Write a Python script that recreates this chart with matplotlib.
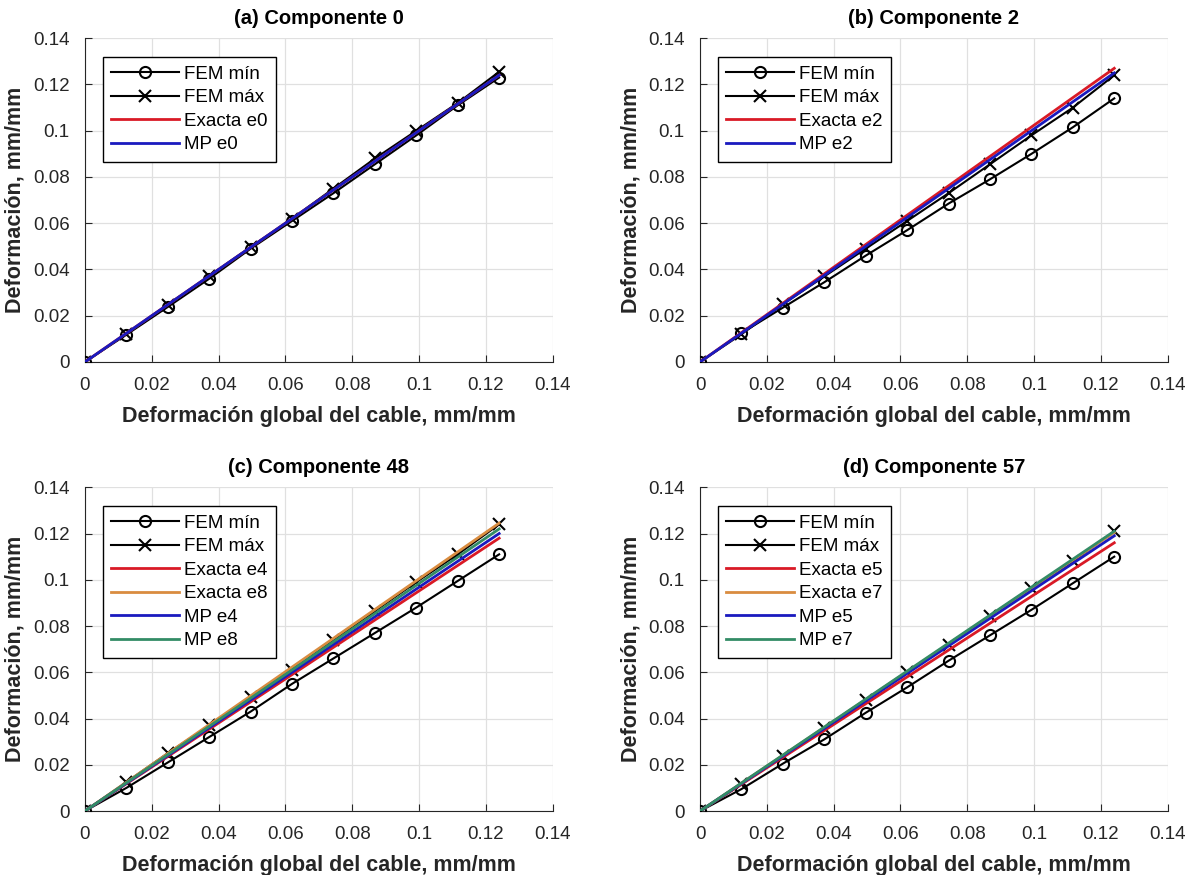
import numpy as np
import matplotlib
matplotlib.use("Agg")
import matplotlib.pyplot as plt

plt.rcParams['font.family'] = ['Liberation Sans', 'DejaVu Sans']

# deformacion global del cable (eje x)
strain = [0, 0.0124, 0.0248, 0.0372, 0.0496, 0.062, 0.0744, 0.0868, 0.0992, 0.1116, 0.124]
ends = [0, 0.124]

titles = ["(a) Componente 0", "(b) Componente 2", "(c) Componente 48", "(d) Componente 57"]

fem_min = [
    [0, 0.0118, 0.0238, 0.0360, 0.0490, 0.0610, 0.0730, 0.0855, 0.0980, 0.1110, 0.1230],
    [0, 0.0125, 0.0235, 0.0345, 0.0460, 0.0570, 0.0685, 0.0790, 0.0900, 0.1015, 0.1140],
    [0, 0.0100, 0.0210, 0.0320, 0.0430, 0.0550, 0.0660, 0.0770, 0.0880, 0.0995, 0.1110],
    [0, 0.0095, 0.0205, 0.0310, 0.0425, 0.0535, 0.0650, 0.0760, 0.0870, 0.0985, 0.1100],
]
fem_max = [
    [0, 0.0122, 0.0248, 0.0372, 0.0497, 0.0620, 0.0750, 0.0880, 0.1000, 0.1120, 0.1255],
    [0, 0.0120, 0.0250, 0.0370, 0.0490, 0.0610, 0.0730, 0.0855, 0.0980, 0.1100, 0.1240],
    [0, 0.0125, 0.0250, 0.0370, 0.0495, 0.0610, 0.0740, 0.0865, 0.0990, 0.1110, 0.1240],
    [0, 0.0115, 0.0240, 0.0360, 0.0480, 0.0600, 0.0720, 0.0845, 0.0965, 0.1080, 0.1210],
]

# rectas: (etiqueta, color, valor final)
red = (0.85, 0.1, 0.15)
orange = (0.85, 0.55, 0.25)
blue = (0.1, 0.1, 0.75)
green = (0.2, 0.55, 0.4)
lines = [
    [("Exacta e0", red, 0.1240), ("MP e0", blue, 0.1240)],
    [("Exacta e2", red, 0.1270), ("MP e2", blue, 0.1250)],
    [("Exacta e4", red, 0.1180), ("Exacta e8", orange, 0.1245),
     ("MP e4", blue, 0.1200), ("MP e8", green, 0.1220)],
    [("Exacta e5", red, 0.1160), ("Exacta e7", orange, 0.1205),
     ("MP e5", blue, 0.1190), ("MP e7", green, 0.1210)],
]

fig = plt.figure(figsize=(11.93, 8.75), dpi=100)
positions = [
    [0.0712, 0.5863, 0.392, 0.370],
    [0.5868, 0.5863, 0.392, 0.370],
    [0.0712, 0.0731, 0.392, 0.370],
    [0.5868, 0.0731, 0.392, 0.370],
]

ticks = np.arange(0, 0.141, 0.02)
ticklabels = ["0", "0.02", "0.04", "0.06", "0.08", "0.1", "0.12", "0.14"]
dark = (0.15, 0.15, 0.15)

for i in range(4):
    ax = fig.add_axes(positions[i])
    ax.plot(strain, fem_min[i], color='k', lw=1.5, marker='o', ms=8,
            mfc='none', mew=1.5, label="FEM mín", zorder=3)
    ax.plot(strain, fem_max[i], color='k', lw=1.5, marker='x', ms=8,
            mew=1.5, label="FEM máx", zorder=3)
    for name, col, yend in lines[i]:
        ax.plot(ends, [0, yend], color=col, lw=2, label=name, zorder=4)

    ax.set_xlim(0, 0.14)
    ax.set_ylim(0, 0.14)
    ax.set_xticks(ticks)
    ax.set_yticks(ticks)
    ax.set_xticklabels(ticklabels)
    ax.set_yticklabels(ticklabels)
    ax.grid(True, color=(0.88, 0.88, 0.88), lw=0.9)
    ax.set_axisbelow(True)
    ax.spines['top'].set_visible(False)
    ax.spines['right'].set_visible(False)
    for s in ['left', 'bottom']:
        ax.spines[s].set_color(dark)
    ax.tick_params(direction='in', length=5, labelsize=13.5, colors=dark)
    ax.tick_params(axis='x', pad=10.5)
    ax.tick_params(axis='y', pad=11)
    ax.set_title(titles[i], fontsize=14.5, fontweight='bold', pad=10)
    ax.set_xlabel("Deformación global del cable, mm/mm", fontsize=15.5,
                  fontweight='bold', color=dark, labelpad=9)
    ax.set_ylabel("Deformación, mm/mm", fontsize=15.5, fontweight='bold',
                  color=dark, labelpad=5)
    leg = ax.legend(loc='upper left', bbox_to_anchor=(0.038, 0.942), fontsize=13.5,
                    fancybox=False, framealpha=1, edgecolor='k',
                    handlelength=3.6, borderpad=0.45, labelspacing=0.34,
                    handletextpad=0.3, borderaxespad=0)
    leg.get_frame().set_linewidth(1.0)

fig.savefig("out.png", dpi=100)
